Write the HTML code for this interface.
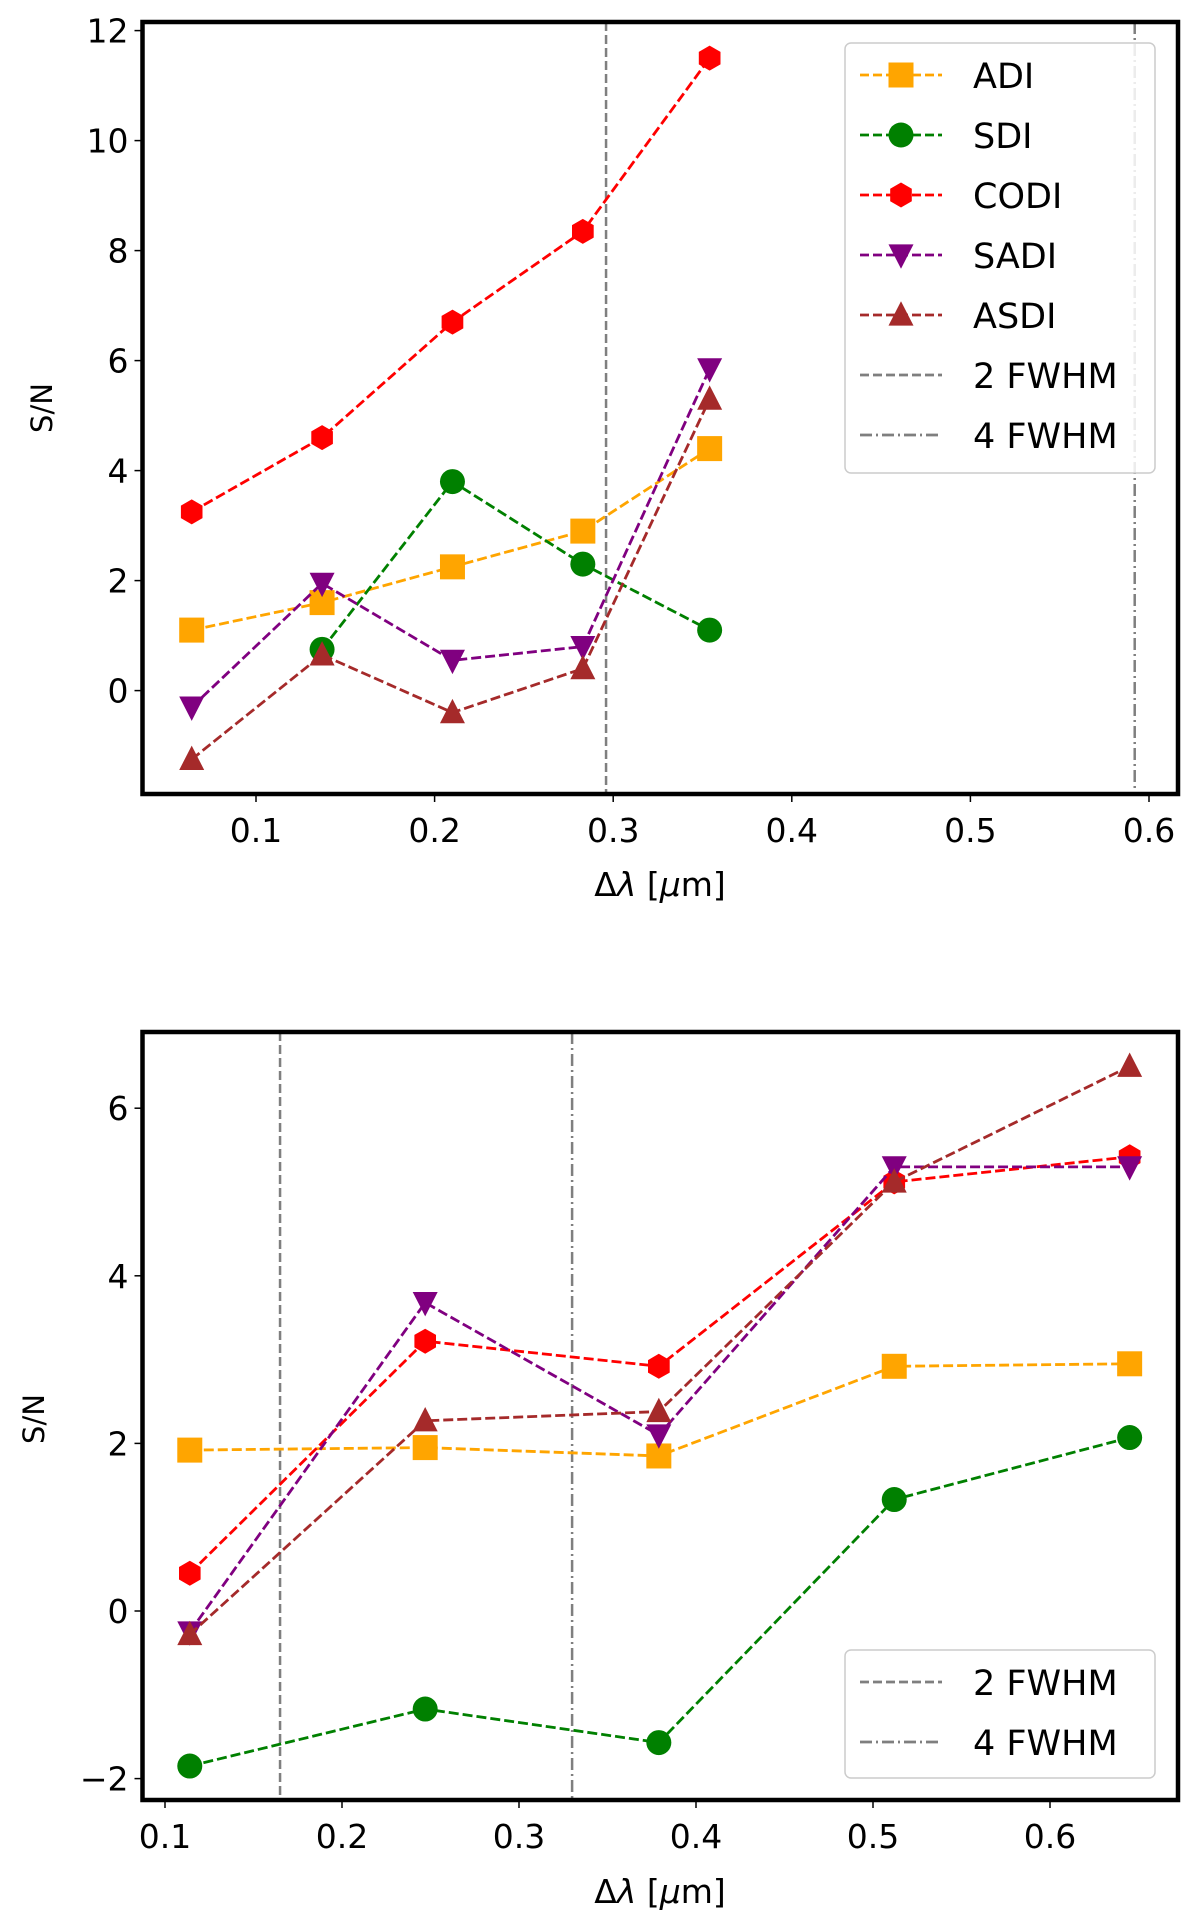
<!DOCTYPE html>
<html><head><meta charset="utf-8"><style>
body{margin:0;background:#fff}
svg{display:block;font-family:"DejaVu Sans","Liberation Sans",sans-serif}
</style></head><body>
<svg id="c" width="1200" height="1914" xmlns="http://www.w3.org/2000/svg"></svg>
<script>
const topX=[0.064,0.137,0.21,0.283,0.354];
const topADI=[1.1,1.6,2.25,2.9,4.4];
const topSDI=[null,0.75,3.8,2.3,1.1];
const topCODI=[3.25,4.6,6.7,8.35,11.5];
const topSADI=[-0.3,1.95,0.55,0.8,5.85];
const topASDI=[-1.25,0.65,-0.4,0.4,5.3];
const topVlines=[0.296,0.592];
const topXTicks=[0.1,0.2,0.3,0.4,0.5,0.6];
const topYTicks=[0,2,4,6,8,10,12];
const botX=[0.114,0.247,0.379,0.512,0.645];
const botADI=[1.92,1.95,1.85,2.92,2.95];
const botSDI=[-1.85,-1.17,-1.57,1.33,2.07];
const botCODI=[0.45,3.22,2.92,5.12,5.42];
const botSADI=[-0.25,3.68,2.1,5.3,5.3];
const botASDI=[-0.28,2.27,2.38,5.12,6.5];
const botVlines=[0.165,0.33];
const botXTicks=[0.1,0.2,0.3,0.4,0.5,0.6];
const botYTicks=[-2,0,2,4,6];

const NS="http://www.w3.org/2000/svg";
const svg=document.getElementById('c');
function mk(tag,at,parent){const e=document.createElementNS(NS,tag);for(const k in at)e.setAttribute(k,at[k]);(parent||svg).appendChild(e);return e;}
const colors={ADI:'#ffa500',SDI:'#008000',CODI:'#ff0000',SADI:'#800080',ASDI:'#a52a2a'};
const shapes={ADI:'square',SDI:'circle',CODI:'hex',SADI:'tdown',ASDI:'tup'};
function marker(g,shape,x,y,c,s){
  s=s||12.5;
  let e;
  if(shape==='square')e=mk('rect',{x:x-s,y:y-s,width:2*s,height:2*s,fill:c},g);
  else if(shape==='circle')e=mk('circle',{cx:x,cy:y,r:s,fill:c},g);
  else if(shape==='hex'){let p=[];for(let i=0;i<6;i++){const a=Math.PI/6+i*Math.PI/3;p.push((x+s*Math.cos(a)).toFixed(1)+','+(y+s*Math.sin(a)).toFixed(1));}e=mk('polygon',{points:p.join(' '),fill:c},g);}
  else if(shape==='tdown')e=mk('polygon',{points:`${x-s},${y-s*0.85} ${x+s},${y-s*0.85} ${x},${y+s*1.1}`,fill:c},g);
  else e=mk('polygon',{points:`${x-s},${y+s*0.85} ${x+s},${y+s*0.85} ${x},${y-s*1.1}`,fill:c},g);
  return e;
}
function panel(cfg){
  const g=mk('g',{});
  
  
  const sx=v=>cfg.x0+(v-cfg.xa)*cfg.xs;
  const sy=v=>cfg.y0-(v-cfg.ya)*cfg.ys;
  const L=142.5,R=1178,T=cfg.T,B=cfg.B;
  cfg.vl.forEach((v,i)=>{
    const l=mk('line',{x1:sx(v),x2:sx(v),y1:T,y2:B,stroke:'#7f7f7f','stroke-width':2.5,'stroke-dasharray':i===0?'9,4':'12,4,2,4'},g);
    
    
  });
  const series={ADI:cfg.ADI,SDI:cfg.SDI,CODI:cfg.CODI,SADI:cfg.SADI,ASDI:cfg.ASDI};
  for(const k in series){
    const pts=[];cfg.X.forEach((x,i)=>{if(series[k][i]!==null)pts.push([sx(x),sy(series[k][i])]);});
    const pl=mk('polyline',{points:pts.map(p=>p.join(',')).join(' '),fill:'none',stroke:colors[k],'stroke-width':2.8,'stroke-dasharray':'10,4'},g);
    
    
    pts.forEach(p=>{const m=marker(g,shapes[k],p[0],p[1],colors[k]);
      
      });
  }
  const fr=mk('rect',{x:L,y:T,width:R-L,height:B-T,fill:'none',stroke:'#000','stroke-width':4.5},g);
  
  
  cfg.xt.forEach(v=>{const x=sx(v);mk('line',{x1:x,x2:x,y1:B,y2:B+8,stroke:'#000','stroke-width':1.5},g);
    const t=mk('text',{x:x,y:B+48,'text-anchor':'middle','font-size':33},g);t.textContent=v.toFixed(1);
    
    });
  cfg.yt.forEach(v=>{const y=sy(v);mk('line',{x1:L-8,x2:L,y1:y,y2:y,stroke:'#000','stroke-width':1.5},g);
    const t=mk('text',{x:L-14,y:y+12,'text-anchor':'end','font-size':33},g);t.textContent=v<0?'\u2212'+(-v):String(v);
    
    });
  const yl=mk('text',{x:0,y:0,'font-size':29,'text-anchor':'middle',transform:`translate(${cfg.ylx},${cfg.yly}) rotate(-90)`},g);yl.textContent='S/N';
  
  
  const xl=mk('text',{x:660,y:cfg.xly,'font-size':33,'text-anchor':'middle'},g);xl.innerHTML='\u0394<tspan font-style="italic">\u03bb</tspan> [<tspan font-style="italic">\u03bc</tspan>m]';
  
  
  const lg=mk('g',{},g);
  
  
  mk('rect',{x:845,y:cfg.lgT,width:310,height:cfg.lgH,rx:6,fill:'#fff','fill-opacity':0.85,stroke:'#ccc','stroke-width':1.5},lg);
  cfg.lg.forEach((k,i)=>{
    const y=cfg.lgT+32+i*60;
    let st;
    if(k==='2 FWHM')st={stroke:'#7f7f7f','stroke-dasharray':'9,4'};
    else if(k==='4 FWHM')st={stroke:'#7f7f7f','stroke-dasharray':'12,4,2,4'};
    else st={stroke:colors[k],'stroke-dasharray':'9,4'};
    mk('line',Object.assign({x1:860,x2:942,y1:y,y2:y,'stroke-width':2.8},st),lg);
    if(colors[k])marker(lg,shapes[k],901,y,colors[k]);
    const t=mk('text',{x:973,y:y+13,'font-size':35},lg);t.textContent=k;
    
    
  });
}
panel({name:'top-panel',X:topX,ADI:topADI,SDI:topSDI,CODI:topCODI,SADI:topSADI,ASDI:topASDI,vl:topVlines,xt:topXTicks,yt:topYTicks,
  x0:256,xa:0.1,xs:1786,y0:690.6,ya:0,ys:55.0,T:22,B:794,ylx:52,yly:408,xly:896,
  lgT:43,lgH:430,lg:['ADI','SDI','CODI','SADI','ASDI','2 FWHM','4 FWHM']});
panel({name:'bottom-panel',X:botX,ADI:botADI,SDI:botSDI,CODI:botCODI,SADI:botSADI,ASDI:botASDI,vl:botVlines,xt:botXTicks,yt:botYTicks,
  x0:165,xa:0.1,xs:1770,y0:1611,ya:0,ys:83.8,T:1032,B:1800,ylx:44,yly:1419,xly:1903,
  lgT:1650,lgH:128,lg:['2 FWHM','4 FWHM']});
</script>
</body></html>
